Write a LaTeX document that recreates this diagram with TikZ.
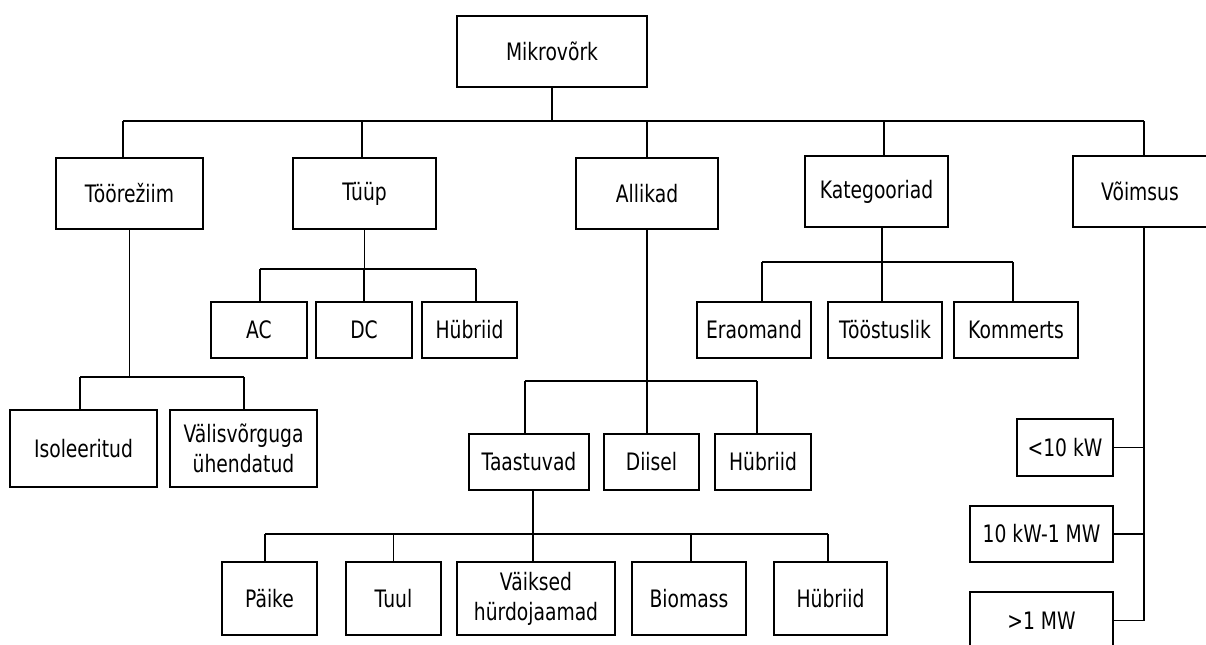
\documentclass[tikz,border=0pt]{standalone}
\usepackage{fontspec}
\setmainfont{DejaVu Sans}[FakeStretch=0.78]
\begin{document}
\begin{tikzpicture}[x=0.75pt,y=-0.75pt,line width=1.4pt,
  box/.style 2 args={draw,rectangle,inner sep=0pt,align=center,
    minimum width=#1*0.75pt,minimum height=#2*0.75pt,
    font=\fontsize{18}{22.5}\selectfont}]
\useasboundingbox (0,0) rectangle (1206,644);

% root and first level
\node[box={190}{71}] (root)  at (552,51.5)   {Mikrovõrk};
\node[box={147}{71}] (toore) at (129.5,193.5) {Töörežiim};
\node[box={143}{71}] (tyyp)  at (364.5,193.5) {Tüüp};
\node[box={142}{71}] (allik) at (647,193.5)   {Allikad};
\node[box={143}{71}] (kat)   at (876.5,191.5) {Kategooriad};
\node[box={134}{71}] (voim)  at (1140,191.5)  {Võimsus};

% operating mode
\node[box={147}{77}] (iso)   at (83.5,448.5)  {Isoleeritud};
\node[box={147}{77}] (valis) at (243.5,448.5) {Välisvõrguga\\ühendatud};

% type
\node[box={96}{56}] (ac)   at (259,330)   {AC};
\node[box={96}{56}] (dc)   at (364,330)   {DC};
\node[box={95}{56}] (hyb1) at (469.5,330) {Hübriid};

% sources
\node[box={120}{56}] (taast)  at (529,462)   {Taastuvad};
\node[box={95}{56}]  (diisel) at (651.5,462) {Diisel};
\node[box={96}{56}]  (hyb2)   at (763,462)   {Hübriid};

% renewables
\node[box={95}{73}]  (paike) at (269.5,598.5) {Päike};
\node[box={95}{73}]  (tuul)  at (393.5,598.5) {Tuul};
\node[box={158}{73}] (vaik)  at (536,598.5)   {Väiksed\\hürdojaamad};
\node[box={114}{73}] (bio)   at (689,598.5)   {Biomass};
\node[box={113}{73}] (hyb3)  at (830.5,598.5) {Hübriid};

% categories
\node[box={114}{56}] (era)  at (754,330)  {Eraomand};
\node[box={114}{56}] (toos) at (885,330)  {Tööstuslik};
\node[box={124}{56}] (komm) at (1016,330) {Kommerts};

% capacity
\node[box={96}{57}]  (p1) at (1065,447.5)   {<10 kW};
\node[box={143}{56}] (p2) at (1041.5,534)   {10 kW-1 MW};
\node[box={143}{57}] (p3) at (1041.5,620.5) {>1 MW};

% main bus
\coordinate (t0) at (123,121);
\coordinate (v0) at (1144,121);
\coordinate (y0) at (362,121);
\coordinate (k0) at (884,121);
\draw (t0) -- (v0);
\draw (root.south) -- (root.south |- t0);
\draw (t0) -- (t0 |- toore.north);
\draw (y0) -- (y0 |- tyyp.north);
\draw (allik.north) -- (allik.north |- t0);
\draw (k0) -- (k0 |- kat.north);
\draw (v0) -- (v0 |- voim.north);

% operating mode branches
\coordinate (ti) at (80,377);
\coordinate (tv) at (244,377);
\draw (toore.south) -- (toore.south |- ti);
\draw (ti) -- (tv);
\draw (ti) -- (ti |- iso.north);
\draw (tv) -- (tv |- valis.north);

% type branches
\coordinate (ya) at (260,269);
\coordinate (yh) at (476,269);
\draw (tyyp.south) -- (tyyp.south |- ya);
\draw (ya) -- (yh);
\draw (ya) -- (ya |- ac.north);
\draw (dc.north) -- (dc.north |- ya);
\draw (yh) -- (yh |- hyb1.north);

% source branches
\coordinate (at) at (525,381);
\coordinate (ah) at (757,381);
\draw (allik.south) -- (allik.south |- diisel.north);
\draw (at) -- (ah);
\draw (at) -- (at |- taast.north);
\draw (ah) -- (ah |- hyb2.north);

% renewable branches
\coordinate (rp) at (265,534);
\coordinate (rh) at (828,534);
\coordinate (rs) at (533,534);
\coordinate (rb) at (691,534);
\draw (rs |- taast.south) -- (rs |- vaik.north);
\draw (rp) -- (rh);
\draw (rp) -- (rp |- paike.north);
\draw (tuul.north) -- (tuul.north |- rp);
\draw (rb) -- (rb |- bio.north);
\draw (rh) -- (rh |- hyb3.north);

% category branches
\coordinate (ke) at (762,262);
\coordinate (kk) at (1013,262);
\coordinate (ks) at (882,262);
\draw (ks |- kat.south) -- (ks |- toos.north);
\draw (ke) -- (kk);
\draw (ke) -- (ke |- era.north);
\draw (kk) -- (kk |- komm.north);

% capacity branches
\draw (v0 |- voim.south) -- (v0 |- p3.east);
\draw (p1.east) -- (p1.east -| v0);
\draw (p2.east) -- (p2.east -| v0);
\draw (p3.east) -- (p3.east -| v0);
\end{tikzpicture}
\end{document}
